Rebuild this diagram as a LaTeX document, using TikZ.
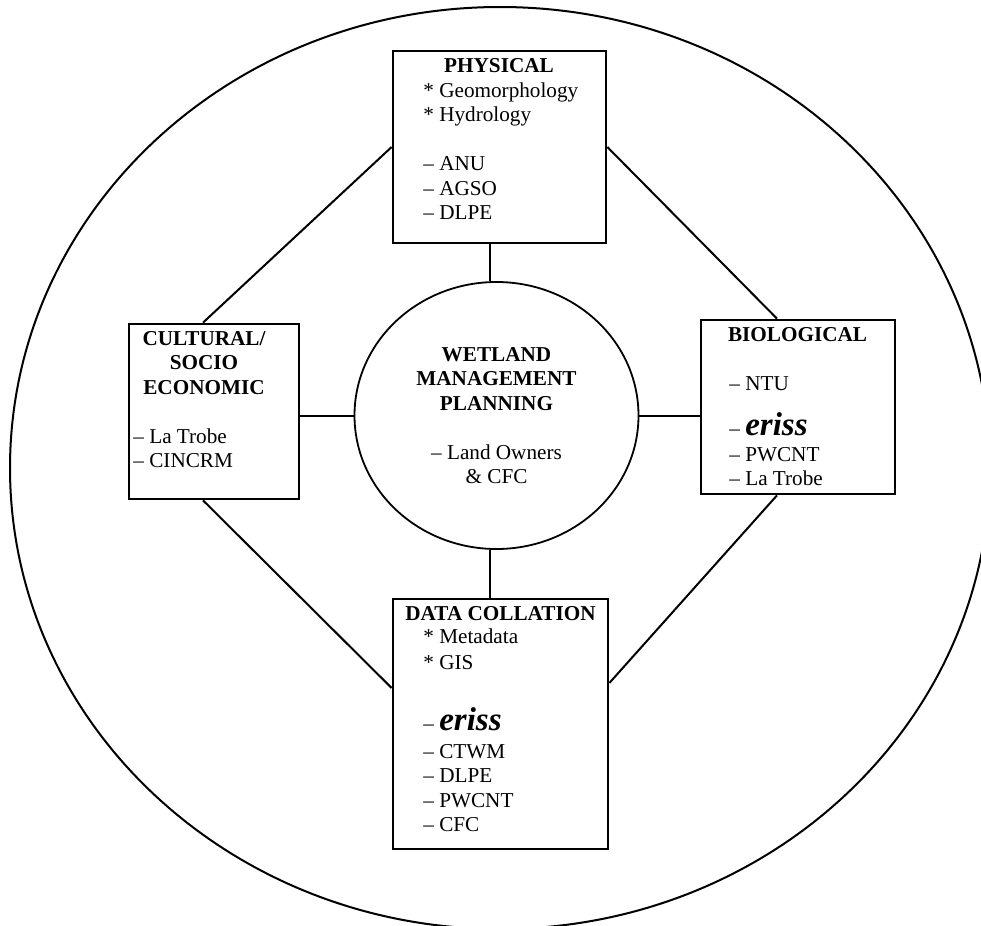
\documentclass[tikz,border=0pt]{standalone}
\usepackage{fontspec}
\setmainfont{Liberation Serif}
\usetikzlibrary{shapes.geometric}

\newcommand{\basefont}{\fontsize{10.6}{12.25}\selectfont}
\newcommand{\eriss}{{\fontsize{16.5}{16.5}\selectfont\bfseries\itshape eriss}}

\tikzset{
  frame/.style = {shape=rectangle, draw, line width=1.35pt, inner sep=0pt},
  hub/.style = {shape=ellipse, draw, line width=0.9pt, inner sep=0pt,
    minimum width=142pt, minimum height=133.5pt,
    align=center, font=\basefont},
  head/.style = {font=\basefont\bfseries, align=center, inner sep=0pt},
  items/.style = {font=\basefont, align=left, inner sep=0pt, anchor=north west},
  link/.style = {line width=1pt}
}

\begin{document}
\begin{tikzpicture}[x=0.5pt, y=-0.5pt]
  \useasboundingbox (0,0) rectangle (981,926);
  \clip (0,0) rectangle (981,926);
  % outer ring
  \draw[line width=1pt] (500,468) ellipse [x radius=245pt, y radius=230.5pt];

  % centre
  \node[hub] (wmp) at (496.5,415.5)
    {\textbf{WETLAND}\\\textbf{MANAGEMENT}\\\textbf{PLANNING}\\[12.25pt]
     \textendash{} Land Owners\\\& CFC};

  % physical
  \node[frame, minimum width=106.5pt, minimum height=96pt] (phys) at (499.5,147) {};
  \node[head, anchor=base] (physHead) at (499,72) {PHYSICAL};
  \node[items] (physList) at (423,79.85)
    {\strut * Geomorphology\\* Hydrology\\[12.25pt]
     \textendash{} ANU\\\textendash{} AGSO\\\textendash{} DLPE};

  % cultural
  \node[frame, minimum width=85pt, minimum height=87.5pt] (cult) at (214,411.5) {};
  \node[head, anchor=north] (cultHead) at (204,327.85)
    {\strut CULTURAL/\\SOCIO\\ECONOMIC};
  \node[items] (cultList) at (133,425.85)
    {\strut\textendash{} La Trobe\\\textendash{} CINCRM};

  % biological
  \node[frame, minimum width=97pt, minimum height=87pt] (bio) at (798,407) {};
  \node[head, anchor=base] (bioHead) at (797.5,341) {BIOLOGICAL};
  \node[items] (bioList) at (729,372.85)
    {\strut\textendash{} NTU\\[6.25pt]\textendash{} \eriss\\[0.75pt]
     \textendash{} PWCNT\\\textendash{} La Trobe};

  % data collation
  \node[frame, minimum width=107.5pt, minimum height=125pt] (data) at (500.5,724) {};
  \node[head, anchor=base] (dataHead) at (500.5,620) {DATA COLLATION};
  \node[items] (dataList) at (423,625.85)
    {\strut * Metadata\\[0.75pt]* GIS\\[18.25pt]
     \textendash{} \eriss\\[1.75pt]\textendash{} CTWM\\\textendash{} DLPE\\
     \textendash{} PWCNT\\\textendash{} CFC};

  % links
  \coordinate (axis) at (490,0);
  \draw[link] (axis |- phys.south) -- (axis |- wmp.north);
  \draw[link] (axis |- wmp.south) -- (axis |- data.north);
  \draw[link] (cult.east |- wmp.west) -- (wmp.west);
  \draw[link] (wmp.east) -- (bio.west |- wmp.east);
  \draw[link] ([xshift=-5.5pt]cult.north) -- (phys.west);
  \draw[link] (phys.east) -- ([xshift=-10.5pt]bio.north);
  \draw[link] ([xshift=-10.5pt]bio.south) -- ([yshift=20.5pt]data.east);
  \draw[link] ([xshift=-5.5pt]cult.south) -- ([yshift=18pt]data.west);
\end{tikzpicture}
\end{document}
